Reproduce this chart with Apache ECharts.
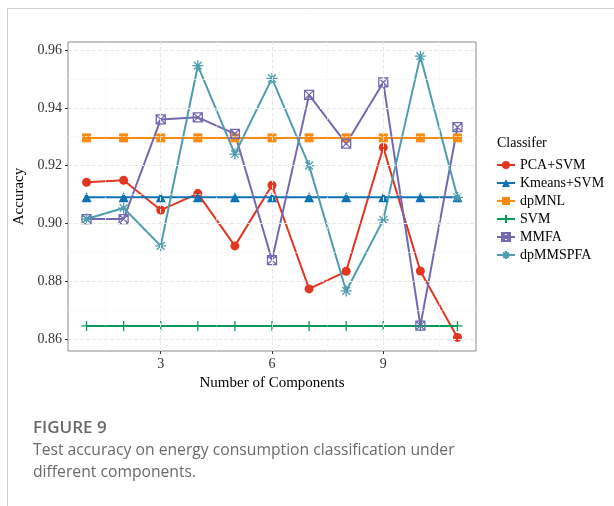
<!DOCTYPE html>
<html><head><meta charset="utf-8">
<script src="https://cdn.jsdelivr.net/npm/echarts@6/dist/echarts.min.js"></script>
<style>html,body{margin:0;padding:0;background:#fff}#c{width:614px;height:506px}</style>
</head><body><div id="c"></div>
<script>
const components = [1,2,3,4,5,6,7,8,9,10,11];
const pcaSvm   = [0.9142,0.9149,0.9046,0.9103,0.8922,0.9132,0.8773,0.8834,0.9263,0.8835,0.8605];
const kmeansSvm= [0.9090,0.9090,0.9090,0.9090,0.9090,0.9090,0.9090,0.9090,0.9090,0.9090,0.9090];
const dpMNL    = [0.9296,0.9296,0.9296,0.9296,0.9296,0.9296,0.9296,0.9296,0.9296,0.9296,0.9296];
const svm      = [0.8645,0.8645,0.8645,0.8645,0.8645,0.8645,0.8645,0.8645,0.8645,0.8645,0.8645];
const mmfa     = [0.9015,0.9015,0.9360,0.9367,0.9310,0.8873,0.9445,0.9276,0.9488,0.8646,0.9333];
const dpMMSPFA = [0.9015,0.9053,0.8922,0.9546,0.9240,0.9502,0.9200,0.8766,0.9012,0.9579,0.9090];
const xTicks = [3,6,9];
const xMinorTicks = [1.5,4.5,7.5,10.5];
const yTicks = [0.86,0.88,0.90,0.92,0.94,0.96];
const yMinorTicks = [0.87,0.89,0.91,0.93,0.95];

const serif = '"Liberation Serif", "DejaVu Serif", serif';
const pair = a => components.map((x,i)=>[x,a[i]]);

const gridLines = [];
xTicks.forEach(v=>gridLines.push({xAxis:v, lineStyle:{color:'#e8e8e8',width:1}}));
xMinorTicks.forEach(v=>gridLines.push({xAxis:v, lineStyle:{color:'#f3f3f3',width:0.7}}));
yTicks.forEach(v=>gridLines.push({yAxis:v, lineStyle:{color:'#e8e8e8',width:1}}));
yMinorTicks.forEach(v=>gridLines.push({yAxis:v, lineStyle:{color:'#f3f3f3',width:0.7}}));

function mk(name, data, color, symbol, size, hollow){
  return {
    name, type:'line', data: pair(data), symbol, symbolSize:size,
    lineStyle:{color, width:2}, z:3,
    itemStyle: hollow ? {color:'rgba(0,0,0,0)', borderColor:color, borderWidth:1.3}
                      : {color, borderColor:color, borderWidth:0},
    emphasis:{disabled:true}
  };
}

const chart = echarts.init(document.getElementById('c'), null, {renderer:'canvas'});
const option = {
  animation:false,
  backgroundColor:'#fff',
  textStyle:{fontFamily:serif},
  grid:{left:68, top:42, width:408, height:309, show:true, borderColor:'#8a8a8a', borderWidth:1, containLabel:false},
  xAxis:{type:'value', min:0.5, max:11.5,
    name:'Number of Components', nameLocation:'middle', nameGap:23,
    nameTextStyle:{fontFamily:serif, fontSize:15, color:'#000'},
    axisLine:{show:false}, splitLine:{show:false},
    axisTick:{show:true, customValues:xTicks, length:3, lineStyle:{color:'#333'}},
    axisLabel:{customValues:xTicks, fontFamily:serif, fontSize:14, color:'#333', margin:6}
  },
  yAxis:{type:'value', min:0.8558, max:0.9628,
    name:'Accuracy', nameLocation:'middle', nameGap:37, nameRotate:90,
    nameTextStyle:{fontFamily:serif, fontSize:15, color:'#000'},
    axisLine:{show:false}, splitLine:{show:false},
    axisTick:{show:true, customValues:yTicks, length:3, lineStyle:{color:'#333'}},
    axisLabel:{customValues:yTicks, fontFamily:serif, fontSize:14, color:'#333', margin:6,
      formatter:v=>v.toFixed(2)}
  },
  title:{text:'Classifer', left:492, top:131, textStyle:{fontFamily:serif, fontSize:14, fontWeight:'normal', color:'#000'}},
  legend:{orient:'vertical', left:491, top:153, itemWidth:18, itemHeight:10, itemGap:4,
    textStyle:{fontFamily:serif, fontSize:14, color:'#000'},
    data:['PCA+SVM','Kmeans+SVM','dpMNL','SVM','MMFA','dpMMSPFA']},
  series:[
    {type:'line', data:[], silent:true, markLine:{silent:true, symbol:'none', label:{show:false}, data:gridLines}, z:1},
    mk('PCA+SVM', pcaSvm, '#E2361F', 'circle', 9),
    mk('Kmeans+SVM', kmeansSvm, '#0B72B5', 'triangle', 10),
    mk('dpMNL', dpMNL, '#FB8A12', 'rect', 9),
    mk('SVM', svm, '#0B9A5A', 'path://M0,5L10,5M5,0L5,10', 10, true),
    mk('MMFA', mmfa, '#7468B2', 'path://M0,0L10,0L10,10L0,10ZM0,0L10,10M0,10L10,0', 9, true),
    mk('dpMMSPFA', dpMMSPFA, '#4E9DAE', 'path://M0,5L10,5M5,0L5,10M1.5,1.5L8.5,8.5M1.5,8.5L8.5,1.5', 11, true)
  ],
  graphic:[
    {type:'line', shape:{x1:7.5,y1:8,x2:7.5,y2:506}, style:{stroke:'#d0d0d0', lineWidth:1}},
    {type:'line', shape:{x1:7,y1:8.5,x2:614,y2:8.5}, style:{stroke:'#d0d0d0', lineWidth:1}},
    {type:'text', left:33, top:420, style:{text:'FIGURE 9', font:'600 17px "Open Sans", sans-serif', fill:'#6a6a6a'}},
    {type:'text', left:33, top:443, style:{text:'Test accuracy on energy consumption classification under', font:'15.7px "Open Sans", sans-serif', fill:'#6a6a6a'}},
    {type:'text', left:33, top:465, style:{text:'different components.', font:'15.7px "Open Sans", sans-serif', fill:'#6a6a6a'}}
  ]
};
chart.setOption(option);
</script></body></html>
